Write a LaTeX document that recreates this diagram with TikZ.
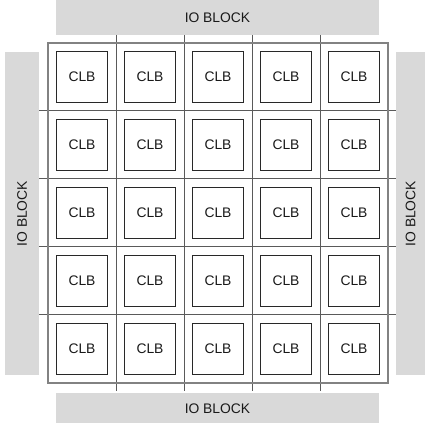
\documentclass[tikz,border=0pt]{standalone}
\usepackage{fontspec}
\setmainfont{Liberation Sans}
\usepackage{tikz}
\usetikzlibrary{positioning}
\usepackage{xcolor}
\definecolor{ioblockgray}{RGB}{217,217,217}
\definecolor{framegray}{RGB}{130,130,130}
\definecolor{wiregray}{RGB}{90,90,90}
\definecolor{clbedge}{RGB}{40,40,40}

\begin{document}
\begin{tikzpicture}[x=0.75pt,y=-0.75pt,
    ioblk/.style={fill=ioblockgray,draw=none},
    iotext/.style={font=\fontsize{10.4}{12}\selectfont,text=black!90},
    wire/.style={draw=wiregray,line width=0.75pt},
    frameline/.style={draw=framegray,line width=1.1pt},
    clb/.style={draw=clbedge,line width=0.75pt,fill=white,minimum size=38pt,
      inner sep=0pt,font=\fontsize{10.4}{12}\selectfont,text=black!90}]
    \useasboundingbox (0,0) rectangle (425,423);

    % IO blocks
    \fill[ioblk] (56,0) rectangle (379,35);
    \node[iotext] (iotop) at (217.5,18) {IO BLOCK};
    \fill[ioblk] (56,393) rectangle (379,423);
    \node[iotext] (iobottom) at (217.5,408.5) {IO BLOCK};
    \fill[ioblk] (5,52) rectangle (39,375.5);
    \node[iotext,rotate=90] (ioleft) at (22,213.7) {IO BLOCK};
    \fill[ioblk] (396,52) rectangle (425,375.5);
    \node[iotext,rotate=90] (ioright) at (410.5,213.7) {IO BLOCK};

    % Routing channels
    \foreach \k in {1,...,4} {
      \draw[wire] ({48+68*\k},35) -- ({48+68*\k},391);
      \draw[wire] (39,{43+68*\k}) -- (396,{43+68*\k});
    }

    % Outer frame
    \draw[frameline] (48,43) rectangle (388,383);

    % Logic blocks
    \foreach \i in {0,...,4} {
      \foreach \j in {0,...,4} {
        \node[clb] (clb-\i-\j) at ({82+68*\i},{77+68*\j}) {CLB};
      }
    }
  \end{tikzpicture}
\end{document}
